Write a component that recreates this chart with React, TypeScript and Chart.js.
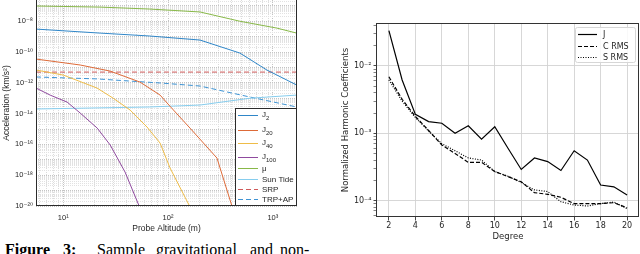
import React, { useEffect, useRef } from "react";
import { Chart, registerables } from "chart.js";

Chart.register(...registerables);

// ===== Left panel: acceleration (km/s^2) vs probe altitude (m) =====
const j2Alt = [5.5, 22.5, 67, 202, 485, 877, 1690];
const j2Acc = [3.1e-9, 1.7e-9, 1.1e-9, 6.0e-10, 8.6e-11, 6.8e-12, 7.2e-13];
const j20Alt = [5.5, 14.5, 28, 54, 84, 104, 162, 293, 407];
const j20Acc = [3.5e-11, 1.44e-11, 5.8e-12, 1.12e-12, 1.6e-13, 3.1e-14, 1.15e-15, 1.3e-17, 1e-20];
const j40Alt = [5.5, 10, 21, 30, 43.5, 63, 84, 104.5, 162];
const j40Acc = [6.8e-12, 3.2e-12, 4.6e-13, 1.0e-13, 1.7e-14, 1.35e-15, 1.23e-16, 2.95e-18, 8.7e-21];
const j100Alt = [5.5, 7.5, 10.9, 14.5, 21.1, 28.1, 38.9, 53];
const j100Acc = [4.6e-13, 1.6e-13, 5.6e-14, 1.1e-14, 1.15e-15, 9.1e-17, 1.6e-18, 1e-20];
const muAlt = [5.5, 22.5, 67, 202, 485, 1090, 1690];
const muAcc = [9.8e-8, 8.3e-8, 6.2e-8, 4.0e-8, 1.0e-8, 3.6e-9, 1.7e-9];
const sunAlt = [5.5, 67, 202, 604, 1690];
const sunAcc = [2.0e-14, 2.7e-14, 3.6e-14, 1.0e-13, 1.6e-13];
const srpAlt = [5.5, 1690];
const srpAcc = [5e-12, 5e-12];
const trpAlt = [5.5, 21, 43.5, 84, 202, 604, 1690];
const trpAcc = [2.4e-12, 1.8e-12, 1.3e-12, 9.8e-13, 6.2e-13, 1.2e-13, 2.7e-14];

const leftSeriesNames = ["J2", "J20", "J40", "J100", "μ", "Sun Tide", "SRP", "TRP+AP"];
const leftLegendMain = ["J", "J", "J", "J", "μ", "Sun Tide", "SRP", "TRP+AP"];
const leftLegendSub = ["2", "20", "40", "100", "", "", "", ""];
const leftXTickValues = [10, 100, 1000];
const leftXTickLabels = ["10¹", "10²", "10³"];
const leftYTickValues = [1e-20, 1e-18, 1e-16, 1e-14, 1e-12, 1e-10, 1e-8];
const leftYTickLabels = ["10⁻²⁰", "10⁻¹⁸", "10⁻¹⁶", "10⁻¹⁴", "10⁻¹²", "10⁻¹⁰", "10⁻⁸"];
const leftXTitle = "Probe Altitude (m)";
const leftYTitle = "Acceleration (km/s²)";

// ===== Right panel: normalized harmonic coefficients vs degree =====
const degrees = [2, 3, 4, 5, 6, 7, 8, 9, 10, 11, 12, 13, 14, 15, 16, 17, 18, 19, 20];
const jValues = [0.0335, 0.0062, 0.00191, 0.00149, 0.00141, 0.001, 0.00129, 0.00082, 0.00125, 0.0006, 0.00029, 0.00043, 0.00038, 0.00028, 0.00055, 0.0004, 0.00017, 0.00016, 0.000121];
const cRmsValues = [0.0069, 0.0032, 0.00178, 0.0011, 0.00067, 0.0005, 0.00037, 0.00037, 0.00027, 0.000227, 0.00019, 0.000131, 0.000124, 0.000112, 0.00009, 0.00009, 0.00009, 0.000093, 0.000078];
const sRmsValues = [0.0062, 0.003, 0.00172, 0.00108, 0.0007, 0.00055, 0.00043, 0.0004, 0.00027, 0.00023, 0.000185, 0.000144, 0.000136, 0.000096, 0.000086, 0.000083, 0.00009, 0.000095, 0.000076];
const rightLegendLabels = ["J", "C RMS", "S RMS"];
const rightXTicks = [2, 4, 6, 8, 10, 12, 14, 16, 18, 20];
const rightYTickValues = [1e-4, 1e-3, 1e-2];
const rightYTickLabels = ["10⁻⁴", "10⁻³", "10⁻²"];
const rightXTitle = "Degree";
const rightYTitle = "Normalized Harmonic Coefficients";

// ===== helpers =====
function logGridValues(min: number, max: number): number[] {
  const out: number[] = [];
  const e0 = Math.floor(Math.log10(min));
  const e1 = Math.ceil(Math.log10(max));
  for (let e = e0; e <= e1; e++) {
    for (let m = 1; m <= 9; m++) {
      const v = m * Math.pow(10, e);
      if (v >= min * 0.999 && v <= max * 1.001) out.push(v);
    }
  }
  return out;
}
function matchIndex(v: number, list: number[]): number {
  for (let i = 0; i < list.length; i++) {
    if (Math.abs(Math.log10(v) - Math.log10(list[i])) < 1e-6) return i;
  }
  return -1;
}
function labelFor(v: number, vals: number[], labels: string[]): string {
  const i = matchIndex(v, vals);
  return i >= 0 ? labels[i] : "";
}
function pts(xs: number[], ys: number[]) {
  return xs.map((x, i) => ({ x, y: ys[i] }));
}

const SANS = "'Liberation Sans', 'DejaVu Sans', sans-serif";
const DJV = "'DejaVu Sans', sans-serif";
const TXT = "#262626";

const LX_MIN = 5.5, LX_MAX = 1700, LY_MIN = 1e-20, LY_MAX = 2.4e-7;
const RY_MIN = 5.7e-5, RY_MAX = 0.0435;

function LeftChart() {
  const ref = useRef<HTMLCanvasElement | null>(null);
  useEffect(() => {
    if (!ref.current) return;
    const xGrid = logGridValues(LX_MIN, LX_MAX);
    const yGrid = logGridValues(LY_MIN, LY_MAX);
    const colors = ["#2f86c8", "#dd6a38", "#eebc48", "#8f4a9e", "#88b848", "#86cdee", "#d05a5a", "#3f94d4"];
    const dashes = [[], [], [], [], [], [], [5, 3], [5, 3]];
    const series = [
      pts(j2Alt, j2Acc), pts(j20Alt, j20Acc), pts(j40Alt, j40Acc), pts(j100Alt, j100Acc),
      pts(muAlt, muAcc), pts(sunAlt, sunAcc), pts(srpAlt, srpAcc), pts(trpAlt, trpAcc),
    ];
    const overlay = {
      id: "leftOverlay",
      afterDatasetsDraw(chart: any) {
        const { ctx, chartArea: a } = chart;
        ctx.save();
        const L = Math.round(a.left), R = Math.round(a.right), T = Math.round(a.top), B = Math.round(a.bottom);
        ctx.strokeStyle = "#2b2b2b";
        ctx.lineWidth = 1;
        ctx.setLineDash([]);
        ctx.strokeRect(L + 0.5, T - 0.5, R - L - 1, B - T);
        // legend
        const bw = 62, bh = 98;
        const bx = R - bw, by = B - bh;
        ctx.fillStyle = "#ffffff";
        ctx.fillRect(bx, by, bw, bh);
        ctx.strokeRect(bx + 0.5, by + 0.5, bw - 1, bh - 1);
        const rows = [7, 22, 35, 49, 60, 71, 81, 91];
        chart.data.datasets.forEach((ds: any, i: number) => {
          const y = by + rows[i] + 0.5;
          ctx.strokeStyle = ds.borderColor;
          ctx.lineWidth = 1;
          ctx.setLineDash(ds.borderDash || []);
          ctx.beginPath();
          ctx.moveTo(bx + 3, y);
          ctx.lineTo(bx + 23, y);
          ctx.stroke();
          ctx.setLineDash([]);
          ctx.fillStyle = TXT;
          ctx.textAlign = "left";
          ctx.textBaseline = "middle";
          ctx.font = `8px ${SANS}`;
          const main = leftLegendMain[i];
          const sub = leftLegendSub[i];
          ctx.fillText(main, bx + 27, y - (sub ? 1 : 0));
          if (sub) {
            const w = ctx.measureText(main).width;
            ctx.font = `6px ${SANS}`;
            ctx.fillText(sub, bx + 27 + w, y + 2.5);
          }
        });
        ctx.restore();
      },
    };
    const chart = new Chart(ref.current, {
      type: "line",
      data: {
        datasets: series.map((d, i) => ({
          label: leftSeriesNames[i],
          data: d,
          borderColor: colors[i],
          backgroundColor: colors[i],
          borderWidth: 1,
          borderDash: dashes[i],
          pointRadius: 0,
          tension: 0,
          fill: false,
        })),
      },
      options: {
        animation: false,
        responsive: false,
        devicePixelRatio: 1,
        layout: { padding: { top: 12, right: 3, left: 0, bottom: 0 } },
        plugins: { legend: { display: false }, tooltip: { enabled: false } },
        scales: {
          x: {
            type: "logarithmic",
            min: LX_MIN,
            max: LX_MAX,
            afterBuildTicks: (s: any) => { s.ticks = xGrid.map((v) => ({ value: v })); },
            afterFit: (s: any) => { s.height = 30; },
            ticks: {
              autoSkip: false, maxRotation: 0, minRotation: 0, padding: 7, color: TXT,
              font: { family: SANS, size: 7.5 },
              callback: (v: any) => labelFor(Number(v), leftXTickValues, leftXTickLabels),
            },
            grid: {
              drawTicks: false,
              lineWidth: 1,
              color: (c: any) => (c.tick && matchIndex(c.tick.value, [10, 100, 1000]) >= 0 ? "#c4c4c4" : "#dcdcdc"),
            },
            border: { display: false, dash: [1, 1] },
            title: { display: true, text: leftXTitle, color: TXT, font: { family: SANS, size: 8.5 }, padding: { top: 0, bottom: 2 } },
          },
          y: {
            type: "logarithmic",
            min: LY_MIN,
            max: LY_MAX,
            afterBuildTicks: (s: any) => { s.ticks = yGrid.map((v) => ({ value: v })); },
            afterFit: (s: any) => { s.width = 36; },
            ticks: {
              autoSkip: false, padding: 3, color: TXT,
              font: { family: SANS, size: 7.5 },
              callback: (v: any) => labelFor(Number(v), leftYTickValues, leftYTickLabels),
            },
            grid: {
              drawTicks: false,
              lineWidth: 1,
              color: (c: any) => {
                if (!c.tick) return "#dcdcdc";
                const l = Math.log10(c.tick.value);
                return Math.abs(l - Math.round(l)) < 1e-6 ? "#c4c4c4" : "#e2e2e2";
              },
            },
            border: { display: false, dash: [1, 1] },
            title: { display: true, text: leftYTitle, color: TXT, font: { family: SANS, size: 8.5 }, padding: { top: 2, bottom: 0 } },
          },
        },
      },
      plugins: [overlay],
    } as any);
    return () => chart.destroy();
  }, []);
  return (
    <canvas
      ref={ref}
      width={300}
      height={248}
      style={{ position: "absolute", left: 0, top: -12, width: 300, height: 248 }}
    />
  );
}

function RightChart() {
  const ref = useRef<HTMLCanvasElement | null>(null);
  useEffect(() => {
    if (!ref.current) return;
    const yGrid = logGridValues(RY_MIN, RY_MAX);
    const isMajor = (v: number) => {
      const l = Math.log10(v);
      return Math.abs(l - Math.round(l)) < 1e-6;
    };
    const styles = [[], [4, 2], [1, 1.5]];
    const series = [jValues, cRmsValues, sRmsValues];
    const overlay = {
      id: "rightOverlay",
      afterDatasetsDraw(chart: any) {
        const { ctx, chartArea: a } = chart;
        ctx.save();
        const L = Math.round(a.left), R = Math.round(a.right), T = Math.round(a.top), B = Math.round(a.bottom);
        ctx.strokeStyle = "#333333";
        ctx.lineWidth = 1;
        ctx.strokeRect(L - 0.5, T + 0.5, R - L, B - T - 1);
        // legend
        const bw = 60, bh = 35;
        const bx = R - bw - 4, by = T + 4;
        ctx.fillStyle = "rgba(255,255,255,0.85)";
        ctx.strokeStyle = "#d6d6d6";
        ctx.beginPath();
        if (ctx.roundRect) ctx.roundRect(bx + 0.5, by + 0.5, bw, bh, 2);
        else ctx.rect(bx + 0.5, by + 0.5, bw, bh);
        ctx.fill();
        ctx.stroke();
        const rows = [7, 19, 30];
        chart.data.datasets.forEach((ds: any, i: number) => {
          const y = by + rows[i] + 0.5;
          ctx.strokeStyle = "#000000";
          ctx.lineWidth = 1.2;
          ctx.setLineDash(ds.borderDash || []);
          ctx.beginPath();
          ctx.moveTo(bx + 3, y);
          ctx.lineTo(bx + 22, y);
          ctx.stroke();
          ctx.setLineDash([]);
          ctx.fillStyle = TXT;
          ctx.textAlign = "left";
          ctx.textBaseline = "middle";
          ctx.font = `8px ${DJV}`;
          ctx.fillText(rightLegendLabels[i], bx + 28, y + 0.5);
        });
        ctx.restore();
      },
    };
    const chart = new Chart(ref.current, {
      type: "line",
      data: {
        datasets: series.map((vals, i) => ({
          label: rightLegendLabels[i],
          data: pts(degrees, vals),
          borderColor: "#000000",
          borderWidth: 1.2,
          borderDash: styles[i],
          pointRadius: 0,
          tension: 0,
          fill: false,
        })),
      },
      options: {
        animation: false,
        responsive: false,
        devicePixelRatio: 1,
        layout: { padding: { top: 23, right: 1, left: 0, bottom: 0 } },
        plugins: { legend: { display: false }, tooltip: { enabled: false } },
        scales: {
          x: {
            type: "linear",
            min: 1.1,
            max: 20.9,
            afterBuildTicks: (s: any) => { s.ticks = rightXTicks.map((v) => ({ value: v })); },
            afterFit: (s: any) => { s.height = 37; },
            ticks: {
              autoSkip: false, maxRotation: 0, minRotation: 0, padding: 1, color: TXT,
              font: { family: DJV, size: 8 },
              callback: (v: any) => String(v),
            },
            grid: { color: "#d2d2d2", lineWidth: 0.9, drawTicks: true, tickLength: 3.5, tickColor: "#333333", tickWidth: 0.9 },
            border: { display: false },
            title: { display: true, text: rightXTitle, color: TXT, font: { family: DJV, size: 8.5 }, padding: { top: 0, bottom: 12 } },
          },
          y: {
            type: "logarithmic",
            min: RY_MIN,
            max: RY_MAX,
            afterBuildTicks: (s: any) => { s.ticks = yGrid.map((v) => ({ value: v })); },
            afterFit: (s: any) => { s.width = 57; },
            ticks: {
              autoSkip: false, padding: 2, color: TXT,
              font: { family: DJV, size: 8 },
              callback: (v: any) => labelFor(Number(v), rightYTickValues, rightYTickLabels),
            },
            grid: {
              drawTicks: true,
              tickLength: 3.5,
              lineWidth: 0.9,
              color: (c: any) => (c.tick && isMajor(c.tick.value) ? "#d2d2d2" : "rgba(0,0,0,0)"),
              tickColor: "#333333",
              tickWidth: (c: any) => (c.tick && isMajor(c.tick.value) ? 0.9 : 0.6),
            },
            border: { display: false },
            title: { display: true, text: rightYTitle, color: TXT, font: { family: DJV, size: 8.5 }, padding: { top: 21, bottom: 0 } },
          },
        },
      },
      plugins: [overlay],
    } as any);
    return () => chart.destroy();
  }, []);
  return (
    <canvas
      ref={ref}
      width={320}
      height={254}
      style={{ position: "absolute", left: 320, top: 0, width: 320, height: 254 }}
    />
  );
}

const captionWords = [
  { text: "Figure", left: 5, bold: true },
  { text: "3:", left: 63, bold: true },
  { text: "Sample", left: 97, bold: false },
  { text: "gravitational", left: 156, bold: false },
  { text: "and", left: 250, bold: false },
  { text: "non-", left: 280, bold: false },
];

export default function App() {
  return (
    <div
      style={{
        position: "fixed",
        left: 0,
        top: 0,
        width: 640,
        height: 254,
        overflow: "hidden",
        background: "#ffffff",
      }}
    >
      <LeftChart />
      <RightChart />
      {captionWords.map((w, i) => (
        <span
          key={i}
          style={{
            position: "absolute",
            left: w.left,
            top: 242,
            fontFamily: "'Liberation Serif', serif",
            fontSize: 16,
            lineHeight: "16px",
            fontWeight: w.bold ? 700 : 400,
            color: "#000",
            whiteSpace: "nowrap",
          }}
        >
          {w.text}
        </span>
      ))}
    </div>
  );
}
